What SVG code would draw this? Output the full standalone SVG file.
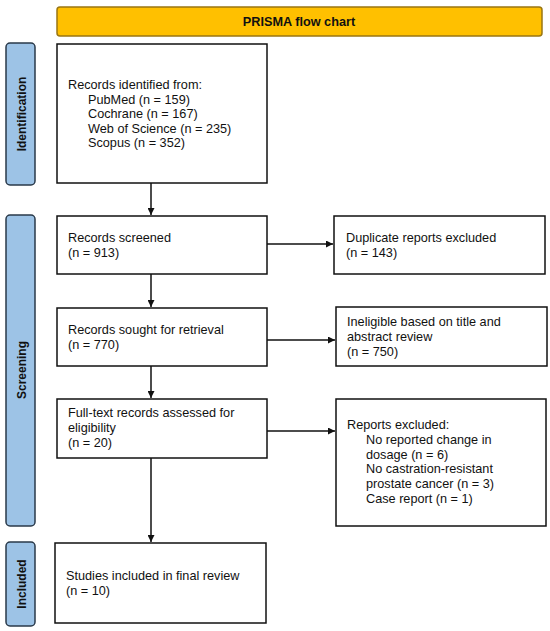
<svg xmlns="http://www.w3.org/2000/svg" width="550" height="631" viewBox="0 0 550 631">
<defs>
<style>
text{font-family:"Liberation Sans",Arial,sans-serif;font-size:12.7px;fill:#111}
.b{fill:#fff;stroke:#111;stroke-width:1.5}
.side{fill:#9dc3e6;stroke:#2a3a4a;stroke-width:1.5}
.sl{font-weight:bold;text-anchor:middle}
.s{font-size:12px}
.c{stroke:#111;stroke-width:1.5;fill:none;marker-end:url(#ah)}
</style>
<marker id="ah" viewBox="0 0 10 10" refX="10" refY="5" markerWidth="7" markerHeight="7" orient="auto" markerUnits="userSpaceOnUse">
<path d="M0,0 L10,5 L0,10 z" fill="#111"/>
</marker>
</defs>
<rect width="550" height="631" fill="#fff"/>
<g id="title">
<rect x="57" y="7" width="485" height="29" rx="3" fill="#ffc000" stroke="#9a7612" stroke-width="1.5"/>
<text x="299" y="26" class="sl">PRISMA flow chart</text>
</g>
<g id="side-identification">
<rect class="side" x="6" y="43" width="29" height="142" rx="4"/>
<text class="sl s" transform="translate(25.5,114) rotate(-90)">Identification</text>
</g>
<g id="side-screening">
<rect class="side" x="6" y="215" width="29" height="311" rx="4"/>
<text class="sl s" transform="translate(25.5,370) rotate(-90)">Screening</text>
</g>
<g id="side-included">
<rect class="side" x="6" y="542" width="29" height="84" rx="4"/>
<text class="sl s" transform="translate(25.5,584) rotate(-90)">Included</text>
</g>
<g id="identified">
<rect class="b" x="57" y="44" width="210" height="139"/>
<text x="68" y="89">Records identified from:</text>
<text x="88" y="103.5">PubMed (n = 159)</text>
<text x="88" y="118">Cochrane (n = 167)</text>
<text x="88" y="132.5">Web of Science (n = 235)</text>
<text x="88" y="147">Scopus (n = 352)</text>
</g>
<g id="screened">
<rect class="b" x="57" y="216" width="210" height="58"/>
<text x="68" y="242">Records screened</text>
<text x="68" y="257">(n = 913)</text>
</g>
<g id="sought">
<rect class="b" x="57" y="308" width="210" height="58"/>
<text x="68" y="334">Records sought for retrieval</text>
<text x="68" y="349">(n = 770)</text>
</g>
<g id="fulltext">
<rect class="b" x="57" y="399" width="210" height="59"/>
<text x="68" y="417">Full-text records assessed for</text>
<text x="68" y="432">eligibility</text>
<text x="68" y="447">(n = 20)</text>
</g>
<g id="included">
<rect class="b" x="55" y="543" width="211" height="80"/>
<text x="66" y="580">Studies included in final review</text>
<text x="66" y="595">(n = 10)</text>
</g>
<g id="duplicates">
<rect class="b" x="334" y="216" width="211" height="58"/>
<text x="346" y="242">Duplicate reports excluded</text>
<text x="346" y="257">(n = 143)</text>
</g>
<g id="ineligible">
<rect class="b" x="336" y="307" width="211" height="59"/>
<text x="347" y="326">Ineligible based on title and</text>
<text x="347" y="341">abstract review</text>
<text x="347" y="356">(n = 750)</text>
</g>
<g id="excluded">
<rect class="b" x="336" y="399" width="210" height="127"/>
<text x="347" y="429">Reports excluded:</text>
<text x="366" y="444">No reported change in</text>
<text x="366" y="459">dosage (n = 6)</text>
<text x="366" y="473">No castration-resistant</text>
<text x="366" y="488">prostate cancer (n = 3)</text>
<text x="366" y="503">Case report (n = 1)</text>
</g>
<g id="connectors">
<line class="c" x1="151" y1="183" x2="151" y2="215"/>
<line class="c" x1="151" y1="274" x2="151" y2="307"/>
<line class="c" x1="151" y1="366" x2="151" y2="398"/>
<line class="c" x1="151" y1="458" x2="151" y2="542"/>
<line class="c" x1="267" y1="244" x2="333" y2="244"/>
<line class="c" x1="267" y1="340" x2="335" y2="340"/>
<line class="c" x1="267" y1="431" x2="335" y2="431"/>
</g>
</svg>
